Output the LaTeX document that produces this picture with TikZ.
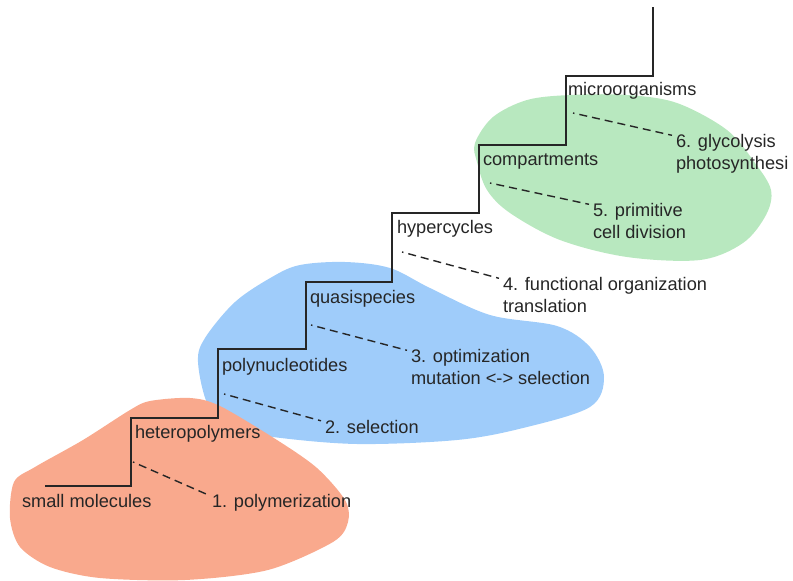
\documentclass[tikz,border=0pt]{standalone}
\usepackage{fontspec}
\setmainfont{Liberation Sans}
\usetikzlibrary{calc}

\definecolor{blob_red}{HTML}{F9A98D}
\definecolor{blob_blue}{HTML}{9FCCFA}
\definecolor{blob_green}{HTML}{B8E8BF}
\definecolor{ink}{HTML}{262626}

\begin{document}
\begin{tikzpicture}[x=1pt,y=-1pt,inner sep=0pt,outer sep=0pt,
    every node/.style={font=\fontsize{18.2pt}{21.5pt}\selectfont, text=ink, anchor=base west, align=left},
    stair_line/.style={draw=ink, line width=1.8pt},
    link_line/.style={draw=ink, line width=1.4pt, dash pattern=on 8pt off 5pt, dash phase=6.5pt}]
  \useasboundingbox (0,0) rectangle (793,581);
    % clouds behind the stairs
  \fill[blob_blue] plot[smooth cycle, tension=0.55] coordinates {
    (300,265) (345,262) (390,268) (430,288) (490,315) (557,326) (590,347) (604,377)
    (590,407) (523,428) (457,440) (357,444) (273,437) (232,428) (208,405) (198,362)
    (205,338) (235,302) (272,277)};
  \fill[blob_green] plot[smooth cycle, tension=0.55] coordinates {
    (570,95) (627,95) (677,103) (727,130) (755,163) (771,190) (766,215) (743,243)
    (700,260) (627,257) (560,240) (510,213) (487,190) (477,162) (475,143) (493,117)
    (527,100)};
  \fill[blob_red] plot[smooth cycle, tension=0.5] coordinates {
    (150,401) (190,398) (220,406) (277,440) (317,468) (345,500) (348,522) (333,542)
    (268,570) (185,580) (100,578) (50,567) (20,547) (10,518) (14,482) (35,467)
    (83,440) (130,410)};
    % staircase
  \draw[stair_line] (45,486) -| (131,418) -| (218,349) -| (306,282) -| (392,213)
    -| (479,145) -| (566,76) -| (653,7);
    % steps
  \node (small_mol) at (22,507) {small molecules};
  \node (hetero_poly) at (135,438) {heteropolymers};
  \node (poly_nuc) at (222,371) {polynucleotides};
  \node (quasi_sp) at (310,303) {quasispecies};
  \node (hyper_cyc) at (397,233) {hypercycles};
  \node (compart) at (483,165) {compartments};
  \node (micro_org) at (568,95) {microorganisms};
    % transitions (base = last line)
  \node (tr_1) at (212,507) {1. polymerization};
  \node (tr_2) at (325,433) {2. selection};
  \node (tr_3) at (411,384) {3. optimization\\mutation <-> selection};
  \node (tr_4) at (503,312) {4. functional organization\\translation};
  \node (tr_5) at (593,238) {5. primitive\\cell division};
  \node (tr_6) at (676,169) {6. glycolysis\\photosynthesi};
  \coordinate (dot_1) at (133,462);
  \coordinate (dot_2) at (224,394);
  \coordinate (dot_3) at (311,325);
  \coordinate (dot_4) at (402,252);
  \coordinate (dot_5) at (490,183);
  \coordinate (dot_6) at (573,113);
  \foreach \i in {1,...,6}
    \draw[link_line] (dot_\i) -- ([xshift=-4pt,yshift=-1pt]tr_\i.north west);
\end{tikzpicture}
\end{document}
